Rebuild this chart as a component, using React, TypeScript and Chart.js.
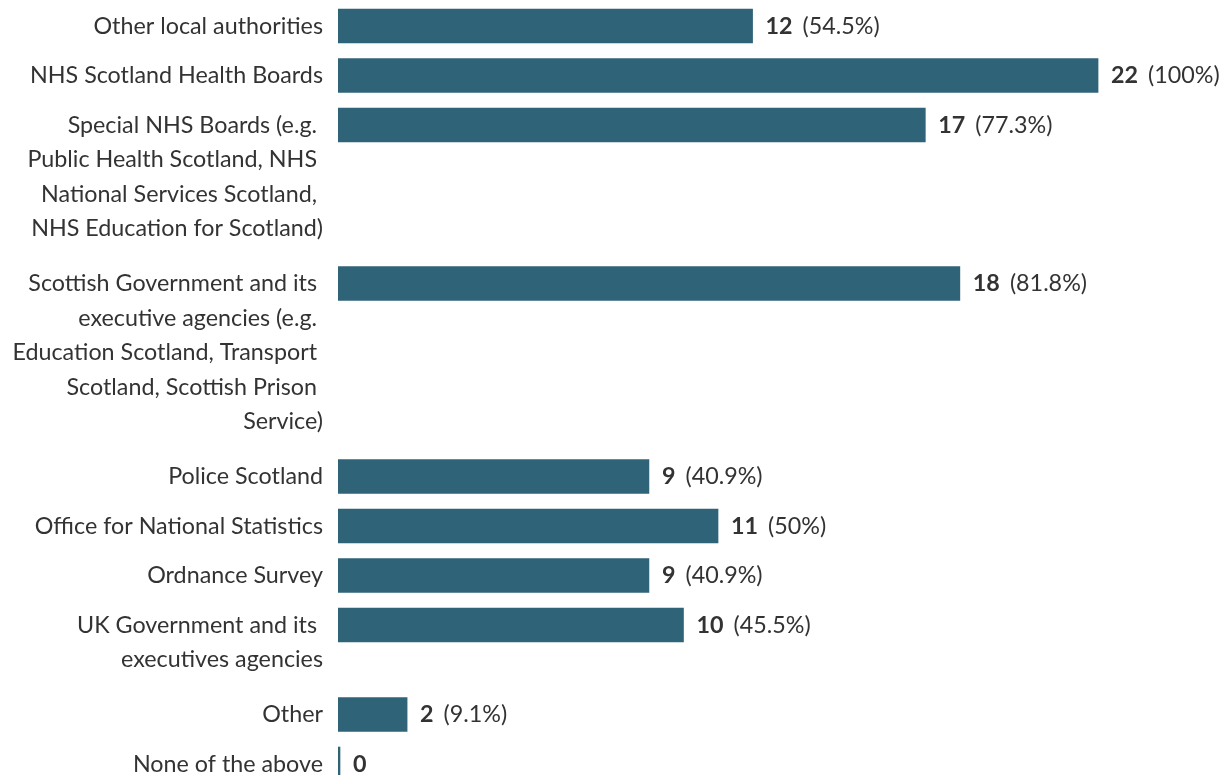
import React, { useEffect, useRef } from "react";
import { Chart, registerables } from "chart.js";

Chart.register(...registerables);

// ---- data ----
const categoryLines: string[][] = [
  ["Other local authorities"],
  ["NHS Scotland Health Boards"],
  ["Special NHS Boards (e.g. ", "Public Health Scotland, NHS ", "National Services Scotland, ", "NHS Education for Scotland)"],
  ["Scottish Government and its ", "executive agencies (e.g. ", "Education Scotland, Transport ", "Scotland, Scottish Prison ", "Service)"],
  ["Police Scotland"],
  ["Office for National Statistics"],
  ["Ordnance Survey"],
  ["UK Government and its ", "executives agencies"],
  ["Other"],
  ["None of the above"],
];
const counts: number[] = [12, 22, 17, 18, 9, 11, 9, 10, 2, 0];
const respondents = 22;

// ---- styling / layout ----
const BAR_COLOR = "#2e6378";
const TEXT_COLOR = "#333333";
const FONT = "Lato";
const FONT_SIZE = 23.3;
const LINE_PX = 34.5;

function pctLabel(v: number): string {
  const p = Math.round((v / respondents) * 1000) / 10;
  return `(${p}%)`;
}

// row positions on a line-unit index scale, derived from label wrapping
const positions: number[] = (() => {
  const out: number[] = [];
  let pos = 0;
  categoryLines.forEach((lines) => {
    out.push(pos);
    pos += lines.length === 1 ? 1.435 : lines.length + 0.594;
  });
  return out;
})();

export default function App() {
  const canvasRef = useRef<HTMLCanvasElement | null>(null);

  useEffect(() => {
    if (!canvasRef.current) return;
    const labelPlugin = {
      id: "customLabels",
      afterDatasetsDraw(chart: any) {
        const ctx = chart.ctx as CanvasRenderingContext2D;
        const yScale = chart.scales.y;
        const meta = chart.getDatasetMeta(0);
        ctx.save();
        ctx.fillStyle = TEXT_COLOR;
        ctx.textBaseline = "middle";
        categoryLines.forEach((lines, i) => {
          ctx.font = `${FONT_SIZE}px ${FONT}`;
          ctx.textAlign = "right";
          lines.forEach((line, k) => {
            const y = yScale.getPixelForValue(positions[i] + k);
            ctx.fillText(line, chart.chartArea.left - 15, y);
          });
          const bar = meta.data[i] as any;
          const y0 = bar.y;
          let x = bar.x + 13;
          ctx.textAlign = "left";
          ctx.font = `bold ${FONT_SIZE}px ${FONT}`;
          const vText = String(counts[i]);
          ctx.fillText(vText, x, y0);
          if (counts[i] > 0) {
            x += ctx.measureText(vText).width + 10;
            ctx.font = `${FONT_SIZE}px ${FONT}`;
            ctx.fillText(pctLabel(counts[i]), x, y0);
          }
        });
        ctx.restore();
      },
    };

    const yMin = -26 / LINE_PX;
    const yMax = yMin + 775 / LINE_PX;

    const chart = new Chart(canvasRef.current, {
      type: "bar",
      data: {
        datasets: [
          {
            data: counts.map((v, i) => ({ x: v, y: positions[i] })) as any,
            backgroundColor: BAR_COLOR,
            borderWidth: 0,
            barThickness: 34,
            minBarLength: 2,
          },
        ],
      },
      options: {
        indexAxis: "y",
        animation: false,
        responsive: true,
        maintainAspectRatio: false,
        layout: { padding: { left: 338, right: 0, top: 0, bottom: 0 } },
        scales: {
          x: { type: "linear", min: 0, max: 25.53, display: false, offset: false },
          y: { type: "linear", reverse: true, min: yMin, max: yMax, display: false, offset: false },
        },
        plugins: {
          legend: { display: false },
          tooltip: { enabled: false },
        },
      },
      plugins: [labelPlugin],
    });

    if ((document as any).fonts && (document as any).fonts.load) {
      Promise.all([
        (document as any).fonts.load(`${FONT_SIZE}px ${FONT}`),
        (document as any).fonts.load(`bold ${FONT_SIZE}px ${FONT}`),
      ]).then(() => chart.update()).catch(() => {});
    }

    return () => chart.destroy();
  }, []);

  return (
    <div style={{ position: "fixed", left: 0, top: 0, width: 1220, height: 775, background: "#fff" }}>
      <canvas ref={canvasRef} />
    </div>
  );
}
